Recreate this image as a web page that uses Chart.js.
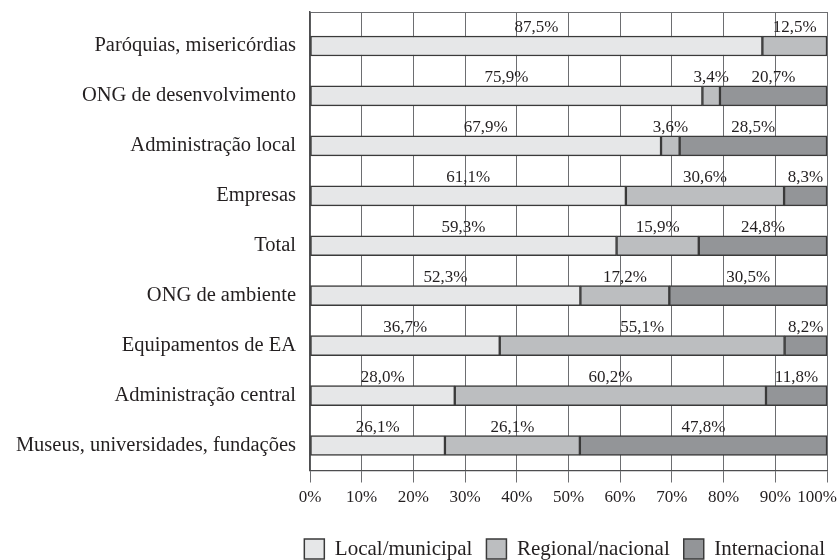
<!DOCTYPE html>
<html>
<head>
<meta charset="utf-8">
<script src="https://cdn.jsdelivr.net/npm/chart.js@4/dist/chart.umd.min.js"></script>
<style>
  html, body { margin: 0; padding: 0; background: #ffffff; }
  #wrap { width: 839px; height: 560px; }
</style>
</head>
<body>
<div id="wrap"><canvas id="c" width="839" height="560"></canvas></div>
<script>
// Categories, top to bottom
const categories = [
  'Paróquias, misericórdias',
  'ONG de desenvolvimento',
  'Administração local',
  'Empresas',
  'Total',
  'ONG de ambiente',
  'Equipamentos de EA',
  'Administração central',
  'Museus, universidades, fundações'
];

// Shares (%) by scope of action
const localMunicipal    = [87.5, 75.9, 67.9, 61.1, 59.3, 52.3, 36.7, 28.0, 26.1];
const regionalNacional  = [12.5,  3.4,  3.6, 30.6, 15.9, 17.2, 55.1, 60.2, 26.1];
const internacional     = [null, 20.7, 28.5,  8.3, 24.8, 30.5,  8.2, 11.8, 47.8];

const seriesNames = ['Local/municipal', 'Regional/nacional', 'Internacional'];
const xTickValues = [0, 10, 20, 30, 40, 50, 60, 70, 80, 90, 100];

const FONT = "'Liberation Serif', 'Times New Roman', serif";
const TEXT = '#231f20';
const GRID = '#6d6e71';
const EDGE = '#3a3a3a';

const fmtPct = v => v.toFixed(1).replace('.', ',') + '%';

const seriesValues = [localMunicipal, regionalNacional, internacional];
const fills = ['#e6e7e8', '#bcbec0', '#939598'];

// Percentage labels above each segment, centred on the segment
const valueLabels = {
  id: 'valueLabels',
  afterDatasetsDraw(chart) {
    const ctx = chart.ctx;
    ctx.save();
    ctx.font = '17px ' + FONT;
    ctx.fillStyle = TEXT;
    ctx.textAlign = 'center';
    ctx.textBaseline = 'alphabetic';
    chart.data.datasets.forEach((ds, i) => {
      const meta = chart.getDatasetMeta(i);
      meta.data.forEach((bar, j) => {
        const v = seriesValues[i][j];
        if (v == null) return;
        const p = bar.getProps(['x', 'base', 'y', 'height'], true);
        ctx.fillText(fmtPct(v), (p.x + p.base) / 2, p.y - p.height / 2 - 4);
      });
    });
    ctx.restore();
  }
};

// X tick labels, centred on their ticks but kept inside the canvas
const xTickLabels = {
  id: 'xTickLabels',
  afterDraw(chart) {
    const xs = chart.scales.x;
    const ctx = chart.ctx;
    ctx.save();
    ctx.font = '17px ' + FONT;
    ctx.fillStyle = TEXT;
    ctx.textAlign = 'center';
    ctx.textBaseline = 'middle';
    const y = xs.top + xs.options.grid.tickLength + 15;
    xs.ticks.forEach(t => {
      const label = t.value + '%';
      const w = ctx.measureText(label).width;
      let px = xs.getPixelForValue(t.value);
      px = Math.min(px, chart.width - w / 2 - 2);
      px = Math.max(px, w / 2 + 2);
      ctx.fillText(label, px, y);
    });
    ctx.restore();
  }
};

Chart.defaults.font.family = FONT;
Chart.defaults.font.size = 17;
Chart.defaults.color = TEXT;

new Chart(document.getElementById('c'), {
  type: 'bar',
  data: {
    datasets: seriesNames.map((name, i) => ({
      label: name,
      data: seriesValues[i].map((v, j) => ({ x: v, y: j })),
      backgroundColor: fills[i],
      borderColor: EDGE,
      borderWidth: 1.5,
      borderSkipped: false,
      barThickness: 20,
      stack: 'all'
    }))
  },
  options: {
    indexAxis: 'y',
    responsive: false,
    animation: false,
    events: [],
    layout: { padding: { left: 0, right: 0, top: 12, bottom: -9.5 } },
    scales: {
      x: {
        type: 'linear',
        position: 'bottom',
        stacked: true,
        min: 0,
        max: 100,
        afterBuildTicks: s => { s.ticks = xTickValues.map(v => ({ value: v })); },
        afterFit: s => { s.paddingRight = 12; s.paddingLeft = 0; },
        ticks: { align: 'inner', padding: 10.8, color: 'rgba(0,0,0,0)', callback: v => v + '%' },
        grid: { color: GRID, lineWidth: 1, tickLength: 12, tickColor: GRID, drawTicks: true },
        border: { display: true, color: '#4d4d4f', width: 1.2 }
      },
      x2: {
        type: 'linear',
        position: 'top',
        min: 0,
        max: 100,
        grid: { display: false, drawTicks: false },
        ticks: { display: false },
        border: { display: true, color: GRID, width: 1 }
      },
      y: {
        type: 'linear',
        stacked: true,
        reverse: true,
        offset: false,
        bounds: 'data',
        min: -0.68,
        max: 8.5,
        afterBuildTicks: s => { s.ticks = categories.map((_, i) => ({ value: i })); },
        afterFit: s => { s.width = 310; s.paddingTop = 0; s.paddingBottom = 0; },
        ticks: { padding: 14, color: TEXT, font: { size: 20.5, family: FONT }, callback: v => categories[v] },
        grid: { display: false, drawTicks: false },
        border: { display: true, color: '#4d4d4f', width: 1.5 }
      }
    },
    plugins: {
      legend: {
        position: 'bottom',
        align: 'end',
        labels: {
          boxWidth: 20,
          boxHeight: 20,
          padding: 14,
          color: TEXT,
          font: { size: 21, family: FONT }
        }
      },
      tooltip: { enabled: false }
    }
  },
  plugins: [valueLabels, xTickLabels]
});
</script>
</body>
</html>
